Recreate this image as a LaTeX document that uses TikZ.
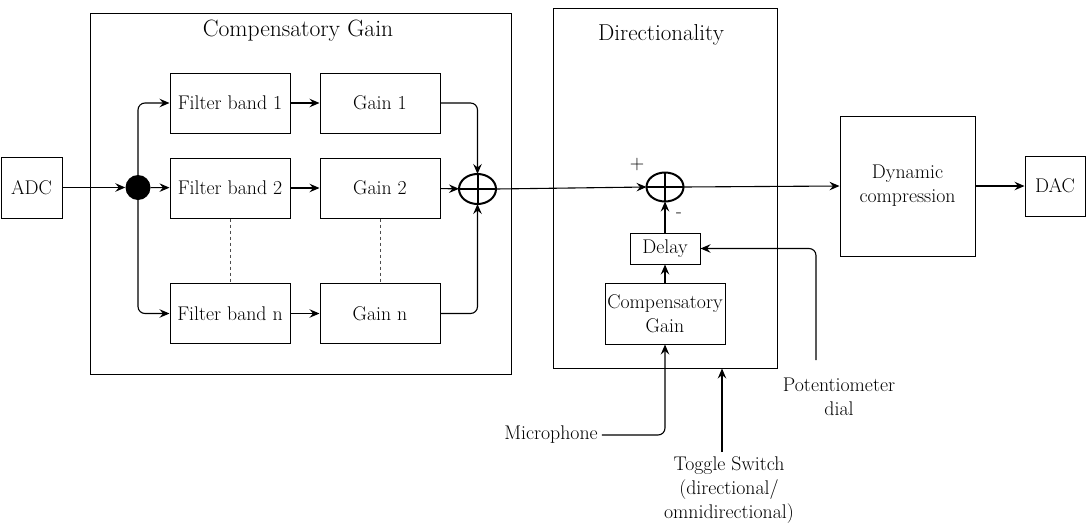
\documentclass[tikz,border=0pt]{standalone}
\usepackage{fontspec}
\usetikzlibrary{arrows.meta,shapes.geometric}
\begin{document}
\begin{tikzpicture}[x=1pt,y=-1pt,
  txt/.style={font=\fontsize{19.8}{24}\selectfont, align=center},
  box/.style={draw, line width=1pt, inner sep=0pt, txt},
  container/.style={draw, line width=1pt, inner sep=0pt},
  sumnode/.style={draw, ellipse, line width=2pt, inner sep=0pt, outer sep=0pt, minimum width=37pt, minimum height=30pt},
  arr/.style={line width=1.1pt, -{Stealth[length=10pt,width=8.5pt,inset=3.5pt]}},
  dots/.style={line width=0.8pt, draw=black!70, dash pattern=on 3pt off 3pt}
]
\useasboundingbox (0,0) rectangle (1086,525);

% containers
\node[container, minimum width=421pt, minimum height=361pt] (cgbox) at (300.5,193.5) {};
\node[font=\fontsize{23.6}{28}\selectfont] (cgtitle) at (298,31) {Compensatory Gain};
\node[container, minimum width=224pt, minimum height=360pt] (dir) at (665,188) {};
\node[font=\fontsize{23}{28}\selectfont] (dirtitle) at (661,35) {Directionality};

% blocks
\node[box, minimum width=61pt, minimum height=61pt] (adc) at (31.5,187.5) {ADC};
\node[circle, fill=black, inner sep=0pt, minimum size=25pt] (dot) at (138,187.5) {};
\node[box, minimum width=120pt, minimum height=60pt] (fb1) at (230,103) {Filter band 1};
\node[box, minimum width=120pt, minimum height=60pt] (fb2) at (230,188) {Filter band 2};
\node[box, minimum width=120pt, minimum height=60pt] (fbn) at (230,313.5) {Filter band n};
\node[box, minimum width=120pt, minimum height=60pt] (g1) at (380,103) {Gain 1};
\node[box, minimum width=120pt, minimum height=60pt] (g2) at (380,188) {Gain 2};
\node[box, minimum width=120pt, minimum height=60pt] (gn) at (380,313.5) {Gain n};
\node[sumnode] (s1) at (477.5,189) {};
\draw[line width=2pt] (s1.north) -- (s1.south) (s1.west) -- (s1.east);

\node[sumnode, minimum height=29pt] (s2) at (665,187) {};
\draw[line width=2pt] (s2.north) -- (s2.south) (s2.west) -- (s2.east);
\node[font=\fontsize{20}{20}\selectfont] (plus) at (637,165) {+};
\node[font=\fontsize{19}{19}\selectfont] (minus) at (679,215) {-};
\node[box, minimum width=70pt, minimum height=31pt] (delay) at (665,248.5) {Delay};
\node[box, minimum width=120pt, minimum height=61pt] (cg2) at (665,313.5) {Compensatory\\Gain};

\node[box, minimum width=135pt, minimum height=140pt] (dc) at (907.5,186) {Dynamic\\compression};
\node[box, minimum width=60pt, minimum height=60pt] (dac) at (1055,186) {DAC};

% external labels
\node[txt, inner sep=4pt] (mic) at (551,435) {Microphone};
\node[txt, inner sep=0pt] (pot) at (839,397) {Potentiometer\\dial};
\node[txt, inner sep=0pt] (tog) at (729,490) {Toggle Switch\\(directional/\\omnidirectional)};
\coordinate (potstart) at (816,360);
\coordinate (togstart) at (722,452);

% connectors
\draw[arr] (adc) -- (dot);
\draw[arr] (dot) -- (fb2);
\draw[arr, rounded corners=7pt] (dot.north) |- (fb1.west);
\draw[arr, rounded corners=7pt] (dot.south) |- (fbn.west);
\draw[arr] (fb1) -- (g1);
\draw[arr] (fb2) -- (g2);
\draw[arr] (fbn) -- (gn);
\draw[dots] (fb2) -- (fbn);
\draw[dots] (g2) -- (gn);
\draw[arr, rounded corners=7pt] (g1.east) -| (s1.north);
\draw[arr] (g2) -- (s1);
\draw[arr, rounded corners=7pt] (gn.east) -| (s1.south);
\draw[arr] (s1.east) -- (s2.west);
\draw[arr] (s2.east) -- (dc.west);
\draw[arr] (dc) -- (dac);
\draw[arr] (cg2) -- (delay);
\draw[arr] (delay) -- (s2);
\draw[arr, rounded corners=7pt] (potstart) |- (delay.east);
\draw[arr, rounded corners=7pt] (mic.east) -| (cg2.south);
\draw[arr] (togstart) -- (togstart |- dir.south);
\end{tikzpicture}
\end{document}
